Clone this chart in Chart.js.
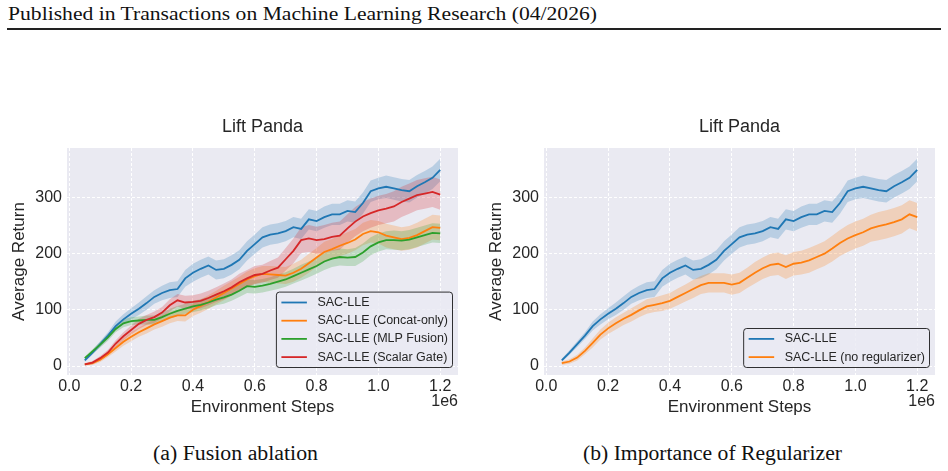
<!DOCTYPE html>
<html>
<head>
<meta charset="utf-8">
<script src="https://cdn.jsdelivr.net/npm/chart.js@4.4.1/dist/chart.umd.min.js"></script>
<style>
  html, body { margin: 0; padding: 0; background: #fff; }
  body { width: 948px; height: 471px; position: relative; overflow: hidden; }
  .serif { position: absolute; font-family: 'Liberation Serif', 'Times New Roman', serif; line-height: 1; white-space: nowrap; color: #111; }
  canvas { position: absolute; }
</style>
</head>
<body>
<div id="hdr" class="serif" style="left:8px;top:4px;font-size:19.2px;transform-origin:0 0;">Published in Transactions on Machine Learning Research (04/2026)</div>
<div style="position:absolute;left:7px;top:28px;width:934px;height:1.5px;background:#222;"></div>

<canvas id="fusionChart" width="470" height="330" style="left:0px;top:100px;"></canvas>
<canvas id="regChart" width="470" height="330" style="left:477px;top:100px;"></canvas>

<div id="capA" class="serif" style="top:443px;font-size:20px;">(a) Fusion ablation</div>
<div id="capB" class="serif" style="top:443px;font-size:20px;">(b) Importance of Regularizer</div>

<script>
// environment steps (x)
var steps = [50000, 75000, 100000, 125000, 150000, 175000, 200000, 225000, 250000, 275000,
  300000, 325000, 350000, 375000, 400000, 425000, 450000, 475000, 500000, 525000,
  550000, 575000, 600000, 625000, 650000, 675000, 700000, 725000, 750000, 775000,
  800000, 825000, 850000, 875000, 900000, 925000, 950000, 975000, 1000000, 1025000,
  1050000, 1075000, 1100000, 1125000, 1150000, 1175000, 1200000];

// SAC-LLE (same run in both panels)
var sacLle = [10, 24, 39, 54, 71, 83, 93, 102, 112, 123, 130, 135, 137, 156, 166, 173, 179, 171, 173, 180,
  189, 205, 217, 229, 234, 236, 240, 247, 244, 261, 258, 265, 270, 270, 276, 274, 290, 311, 316, 319,
  316, 313, 311, 320, 327, 335, 349];
var sacLleStd = [3, 4, 5, 6, 8, 9, 10, 11, 12, 12, 13, 14, 14, 15, 16, 16, 16, 17, 17, 17,
  17, 17, 17, 18, 18, 18, 18, 18, 18, 18, 18, 19, 19, 19, 19, 19, 19, 19, 19, 20,
  20, 20, 20, 20, 20, 20, 20];

// SAC-LLE (Concat-only)
var concatOnly = [3, 5, 11, 21, 32, 43, 52, 60, 67, 74, 80, 86, 90, 90, 100, 107, 114, 122, 130, 138,
  146, 154, 160, 164, 163, 162, 161, 166, 173, 183, 193, 203, 208, 214, 219, 225, 235, 240, 238, 232,
  229, 226, 228, 233, 240, 247, 246];
var concatOnlyStd = [2, 3, 4, 5, 6, 7, 8, 8, 9, 9, 10, 10, 10, 11, 11, 12, 12, 12, 13, 13,
  13, 14, 14, 14, 15, 15, 15, 16, 16, 17, 17, 18, 18, 18, 19, 19, 20, 20, 20, 21,
  21, 21, 21, 22, 22, 22, 22];

// SAC-LLE (MLP Fusion)
var mlpFusion = [14, 26, 38, 51, 66, 76, 80, 81, 82, 82, 87, 93, 98, 102, 106, 109, 113, 118, 122, 127,
  134, 142, 141, 143, 146, 150, 154, 160, 166, 172, 178, 186, 191, 194, 193, 194, 202, 213, 220, 224,
  224, 223, 225, 229, 233, 237, 236];
var mlpFusionStd = [3, 4, 5, 6, 6, 7, 7, 7, 8, 8, 8, 9, 9, 9, 10, 10, 10, 10, 11, 11,
  11, 12, 12, 12, 12, 13, 13, 13, 14, 14, 14, 15, 15, 15, 15, 16, 16, 16, 16, 16,
  17, 17, 17, 17, 17, 17, 17];

// SAC-LLE (Scalar Gate)
var scalarGate = [3, 6, 14, 24, 40, 53, 64, 75, 82, 87, 95, 108, 117, 113, 114, 116, 121, 127, 133, 140,
  149, 156, 162, 164, 170, 175, 190, 205, 224, 227, 224, 226, 230, 232, 245, 257, 266, 272, 277, 280,
  284, 292, 298, 304, 307, 310, 305];
var scalarGateStd = [2, 3, 4, 5, 6, 7, 8, 9, 9, 10, 10, 11, 11, 12, 12, 13, 13, 13, 14, 14,
  15, 15, 16, 16, 17, 18, 20, 22, 23, 24, 24, 25, 25, 25, 25, 26, 26, 26, 26, 26,
  27, 27, 27, 27, 27, 27, 27];

// SAC-LLE (no regularizer)
var noReg = [5, 8, 15, 27, 41, 56, 67, 76, 84, 91, 99, 106, 109, 112, 116, 123, 130, 137, 144, 148,
  148, 148, 145, 148, 157, 166, 174, 180, 182, 176, 182, 184, 188, 194, 200, 209, 219, 227, 233, 238,
  245, 249, 252, 256, 261, 270, 265];
var noRegStd = [3, 4, 5, 6, 8, 9, 10, 11, 11, 12, 12, 13, 13, 14, 14, 15, 15, 16, 16, 17,
  17, 17, 18, 18, 18, 19, 19, 20, 20, 21, 21, 21, 22, 22, 22, 23, 23, 24, 24, 24,
  24, 25, 25, 25, 25, 25, 25];

var xTicks = [0, 200000, 400000, 600000, 800000, 1000000, 1200000];
var yTicks = [0, 100, 200, 300];

var BLUE = '31, 119, 180', ORANGE = '255, 127, 14', GREEN = '44, 160, 44', RED = '214, 39, 40';

Chart.defaults.font.family = "'Liberation Sans', Arial, sans-serif";
Chart.defaults.color = '#262626';

function pts(vals) {
  return steps.map(function (s, i) { return {x: s, y: vals[i]}; });
}

function series(label, mean, std, rgb, order) {
  var up = mean.map(function (v, i) { return v + std[i]; });
  var lo = mean.map(function (v, i) { return v - std[i]; });
  return [
    {label: label, data: pts(mean), borderColor: 'rgb(' + rgb + ')', borderWidth: 1.8,
      pointRadius: 0, fill: false, order: order, isLine: true},
    {label: label + ' upper', data: pts(up), borderWidth: 0, pointRadius: 0,
      backgroundColor: 'rgba(' + rgb + ', 0.24)', fill: '+1', order: 10 + order},
    {label: label + ' lower', data: pts(lo), borderWidth: 0, pointRadius: 0, fill: false, order: 10 + order}
  ];
}

// plot background, title, offset text and the boxed legend
var panelDeco = {
  id: 'panelDeco',
  beforeDraw: function (chart) {
    var a = chart.chartArea, ctx = chart.ctx;
    ctx.save();
    ctx.fillStyle = '#EAEAF2';
    ctx.fillRect(a.left, a.top, a.right - a.left, a.bottom - a.top);
    ctx.restore();
  },
  afterDraw: function (chart) {
    var a = chart.chartArea, ctx = chart.ctx;
    var fam = Chart.defaults.font.family;
    ctx.save();
    ctx.fillStyle = '#262626';
    ctx.textBaseline = 'middle';
    ctx.textAlign = 'center';
    ctx.font = '18px ' + fam;
    ctx.fillText('Lift Panda', (a.left + a.right) / 2, a.top - 21);
    ctx.textAlign = 'right';
    ctx.font = '16px ' + fam;
    ctx.fillText('1e6', a.right, a.bottom + 27);

    // legend
    var lines = chart.data.datasets.filter(function (d) { return d.isLine; });
    ctx.font = '12.5px ' + fam;
    var tw = 0;
    lines.forEach(function (d) { tw = Math.max(tw, ctx.measureText(d.label).width); });
    var rowH = 18.2, pad = 1.3;
    var w = 5 + 25.5 + 10.5 + tw + 4.5;
    var h = lines.length * rowH + 2 * pad;
    var x0 = a.right - 5.5 - w, y0 = a.bottom - 7.5 - h;
    ctx.beginPath();
    ctx.roundRect(x0, y0, w, h, 3);
    ctx.fillStyle = 'rgba(234, 234, 242, 0.8)';
    ctx.fill();
    ctx.lineWidth = 1;
    ctx.strokeStyle = 'rgba(0, 0, 0, 0.8)';
    ctx.stroke();
    lines.forEach(function (d, i) {
      var cy = y0 + pad + rowH * (i + 0.5);
      ctx.beginPath();
      ctx.moveTo(x0 + 5, cy);
      ctx.lineTo(x0 + 30.5, cy);
      ctx.strokeStyle = d.borderColor;
      ctx.lineWidth = 1.8;
      ctx.stroke();
      ctx.fillStyle = '#262626';
      ctx.textAlign = 'left';
      ctx.fillText(d.label, x0 + 41, cy);
    });
    ctx.restore();
  }
};

function makeChart(id, datasets) {
  return new Chart(document.getElementById(id), {
    type: 'line',
    data: {datasets: datasets},
    options: {
      responsive: false,
      animation: false,
      devicePixelRatio: 1,
      layout: {padding: {top: 48, right: 12, left: 0, bottom: 0}},
      plugins: {legend: {display: false}, tooltip: {enabled: false}},
      scales: {
        x: {
          type: 'linear',
          min: -7500,
          max: 1257500,
          afterBuildTicks: function (s) { s.ticks = xTicks.map(function (v) { return {value: v}; }); },
          afterFit: function (s) { s.height = 55; },
          ticks: {
            font: {size: 16},
            padding: 2,
            maxRotation: 0,
            autoSkip: false,
            callback: function (v) { return (v / 1e6).toFixed(1); }
          },
          grid: {color: '#ffffff', lineWidth: 1, drawTicks: false},
          border: {display: false, dash: [3, 2]},
          title: {display: true, text: 'Environment Steps', font: {size: 17}, padding: {top: 0, bottom: 12}}
        },
        y: {
          min: -16,
          max: 388,
          afterBuildTicks: function (s) { s.ticks = yTicks.map(function (v) { return {value: v}; }); },
          afterFit: function (s) { s.width = 67; },
          ticks: {font: {size: 16}, padding: 5},
          grid: {color: '#ffffff', lineWidth: 1, drawTicks: false},
          border: {display: false, dash: [3, 2]},
          title: {display: true, text: 'Average Return', font: {size: 17}, padding: {top: 9, bottom: 0}}
        }
      }
    },
    plugins: [panelDeco]
  });
}

makeChart('fusionChart', [].concat(
  series('SAC-LLE', sacLle, sacLleStd, BLUE, 4),
  series('SAC-LLE (Concat-only)', concatOnly, concatOnlyStd, ORANGE, 3),
  series('SAC-LLE (MLP Fusion)', mlpFusion, mlpFusionStd, GREEN, 2),
  series('SAC-LLE (Scalar Gate)', scalarGate, scalarGateStd, RED, 1)
));

makeChart('regChart', [].concat(
  series('SAC-LLE', sacLle, sacLleStd, BLUE, 2),
  series('SAC-LLE (no regularizer)', noReg, noRegStd, ORANGE, 1)
));

// squeeze the serif texts to the widths of the paper's font
function fitText(id, width, left, center) {
  var el = document.getElementById(id);
  var w = el.getBoundingClientRect().width;
  var k = width / w;
  el.style.transformOrigin = '0 0';
  el.style.transform = 'scaleX(' + k + ')';
  el.style.left = (center ? left - width / 2 : left) + 'px';
}
fitText('hdr', 589, 8, false);
fitText('capA', 165, 235, true);
fitText('capB', 259, 712.5, true);
</script>
</body>
</html>
